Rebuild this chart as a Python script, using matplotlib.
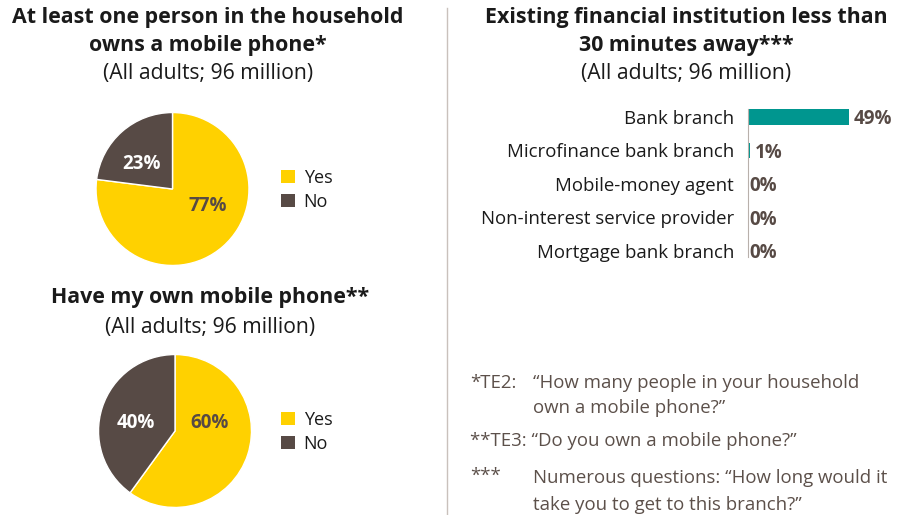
import matplotlib
matplotlib.use("Agg")
import matplotlib.pyplot as plt
from matplotlib.patches import Patch

plt.rcParams['font.family'] = ['Open Sans', 'DejaVu Sans']

# data
pie_labels = ['Yes', 'No']
household_phone = [77, 23]
own_phone = [60, 40]
branch_labels = ['Bank branch', 'Microfinance bank branch', 'Mobile-money agent',
                 'Non-interest service provider', 'Mortgage bank branch']
branch_values = [49, 1, 0, 0, 0]

YELLOW = '#FFD100'
BROWN = '#574A45'
TEAL = '#00968F'
DARK = '#1A1A1A'
NOTE = '#5C504A'

W, H = 906, 515
fig = plt.figure(figsize=(W / 100, H / 100), dpi=100)


def fx(x):
    return x / W


def fy(y):
    return 1 - y / H


def title(x, y, s, bold=True, size=15.4):
    fig.text(fx(x), fy(y), s, ha='center', va='center', fontsize=size,
             fontweight='bold' if bold else 'normal', color=DARK)


# titles
title(208, 18, 'At least one person in the household')
title(208, 45, 'owns a mobile phone*')
title(208, 73, '(All adults; 96 million)', bold=False, size=15.2)
title(210, 298, 'Have my own mobile phone**')
title(210, 327, '(All adults; 96 million)', bold=False, size=15.2)
title(686, 18, 'Existing financial institution less than')
title(686, 45, '30 minutes away***')
title(686, 73, '(All adults; 96 million)', bold=False, size=15.2)

# separator
fig.add_artist(plt.Line2D([fx(447), fx(447)], [fy(8), fy(515)],
                          color='#C9C1BC', lw=1))


def pie_chart(cx, cy, r, values, label_pos, legend_y):
    ax = fig.add_axes([fx(cx - r), fy(cy + r), 2 * r / W, 2 * r / H])
    ax.pie(values, colors=[YELLOW, BROWN], startangle=90, counterclock=False,
           radius=1, wedgeprops=dict(edgecolor='white', linewidth=1))
    ax.set_xlim(-1.02, 1.02)
    ax.set_ylim(-1.02, 1.02)
    ax.set_aspect('auto')
    ax.axis('off')
    for v, (dx, dy), c in zip(values, label_pos, [BROWN, 'white']):
        ax.text(dx / r, -dy / r, f'{v}%', ha='center', va='center_baseline',
                fontsize=13.5, fontweight='bold', color=c)
    handles = [Patch(facecolor=YELLOW), Patch(facecolor=BROWN)]
    fig.legend(handles, pie_labels, loc='center left',
               bbox_to_anchor=(fx(272), fy(legend_y)), frameon=False,
               fontsize=13, handlelength=0.75, handleheight=0.75,
               handletextpad=0.5, labelspacing=0.35, borderpad=0,
               labelcolor=DARK)


pie_chart(172.5, 189, 78, household_phone, [(36, 15), (-32, -28)], 190)
pie_chart(175, 431, 78, own_phone, [(35, -11), (-40, -11)], 432)

# bar chart
row = 33.4
top = 117 - row / 2
x0, full = 748, 206
axb = fig.add_axes([fx(x0), fy(top + 5 * row), full / W, 5 * row / H])
ypos = list(range(len(branch_values)))
axb.barh(ypos, branch_values, height=0.45, color=TEAL)
axb.set_xlim(0, 100)
axb.set_ylim(4.5, -0.5)
axb.set_yticks(ypos)
axb.set_yticklabels(branch_labels, fontsize=13.4, color=DARK)
axb.tick_params(axis='y', length=0, pad=10)
axb.set_xticks([])
for s in ['top', 'right', 'bottom']:
    axb.spines[s].set_visible(False)
axb.spines['left'].set_color('#B8B0AB')
axb.spines['left'].set_bounds(-0.24, 4.19)
for y, v in zip(ypos, branch_values):
    axb.text(v + (2.5 if v else 0.8), y, f'{v}%', ha='left',
             va='center_baseline', fontsize=13.5, fontweight='bold', color=BROWN)

# notes
notes = [
    (470, 383, '*TE2:'), (533, 383, '\u201cHow many people in your household'),
    (533, 408, 'own a mobile phone?\u201d'),
    (470, 441, '**TE3: \u201cDo you own a mobile phone?\u201d'),
    (470, 476, '***'), (533, 478, 'Numerous questions: \u201cHow long would it'),
    (533, 505, 'take you to get to this branch?\u201d'),
]
for x, y, s in notes:
    fig.text(fx(x), fy(y), s, ha='left', va='center', fontsize=13.4, color=NOTE)

fig.savefig('out.png', dpi=100)
